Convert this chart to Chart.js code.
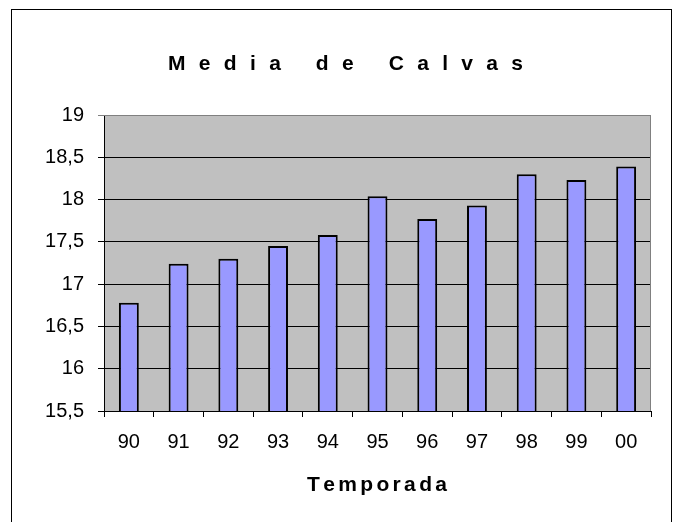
<!DOCTYPE html>
<html>
<head>
<meta charset="utf-8">
<script src="https://cdn.jsdelivr.net/npm/chart.js@4/dist/chart.umd.min.js"></script>
<style>
  html, body { margin: 0; padding: 0; background: #fff; }
  #wrap { position: relative; width: 676px; height: 522px; }
  #frame { position: absolute; left: 11px; top: 9px; width: 661px; height: 540px;
           border: 1px solid #000; box-sizing: border-box; pointer-events: none; }
</style>
</head>
<body>
<div id="wrap">
  <canvas id="chart" width="676" height="522"></canvas>
  <div id="frame"></div>
</div>
<script>
// datos
var temporadas = ['90', '91', '92', '93', '94', '95', '96', '97', '98', '99', '00'];
var mediaCalvas = [16.78, 17.24, 17.30, 17.45, 17.58, 18.04, 17.77, 17.93, 18.30, 18.23, 18.39];
var tituloGrafico = 'Media de Calvas';
var tituloEjeX = 'Temporada';

// texto espaciado letra a letra (como lo dibuja Excel)
function textoEspaciado(ctx, texto, font, ancho, huecoPalabra, cx, cy) {
    ctx.font = font;
    ctx.textAlign = 'left';
    ctx.textBaseline = 'middle';
    var chars = texto.split('');
    var anchoLetras = 0, huecos = 0, espacios = 0;
    chars.forEach(function(c, i) {
        if (c === ' ') { espacios++; return; }
        anchoLetras += ctx.measureText(c).width;
        if (i < chars.length - 1 && chars[i + 1] !== ' ') huecos++;
    });
    var hueco = (ancho - anchoLetras - espacios * huecoPalabra) / huecos;
    var x = cx - ancho / 2;
    chars.forEach(function(c, i) {
        if (c === ' ') { x += huecoPalabra; return; }
        ctx.fillText(c, x, cy);
        x += ctx.measureText(c).width;
        if (i < chars.length - 1 && chars[i + 1] !== ' ') x += hueco;
    });
}

// fondo gris del area de trazado + borde superior/derecho + titulos
var fondoPlot = {
    id: 'fondoPlot',
    beforeDraw: function(chart) {
        var a = chart.chartArea;
        var ctx = chart.ctx;
        ctx.save();
        ctx.fillStyle = '#C0C0C0';
        ctx.fillRect(a.left, a.top, a.right - a.left, a.bottom - a.top);
        ctx.restore();
    },
    afterDraw: function(chart) {
        var a = chart.chartArea;
        var ctx = chart.ctx;
        ctx.save();
        ctx.strokeStyle = '#808080';
        ctx.lineWidth = 1;
        ctx.beginPath();
        ctx.moveTo(a.left, a.top + 0.5);
        ctx.lineTo(a.right - 0.5, a.top + 0.5);
        ctx.lineTo(a.right - 0.5, a.bottom);
        ctx.stroke();

        ctx.fillStyle = '#000';
        textoEspaciado(ctx, tituloGrafico, 'bold 21px "Liberation Sans", Arial, sans-serif', 355, 35, 345.5, 64);
        textoEspaciado(ctx, tituloEjeX, 'bold 21px "Liberation Sans", Arial, sans-serif', 140, 0, 377, 485);
        ctx.restore();
    }
};

var ctx = document.getElementById('chart').getContext('2d');
var myChart = new Chart(ctx, {
    type: 'bar',
    data: {
        labels: temporadas,
        datasets: [{
            label: 'Media',
            data: mediaCalvas,
            backgroundColor: '#9999FF',
            borderColor: '#000000',
            borderWidth: 2,
            categoryPercentage: 1,
            barPercentage: 0.4
        }]
    },
    options: {
        responsive: false,
        animation: false,
        layout: { padding: { top: 115, right: 25, bottom: 0, left: 0 } },
        plugins: {
            legend: { display: false },
            tooltip: { enabled: false }
        },
        scales: {
            x: {
                offset: true,
                grid: {
                    offset: true,
                    drawOnChartArea: false,
                    color: '#000',
                    tickLength: 6
                },
                border: { color: '#000', width: 1 },
                ticks: {
                    color: '#000',
                    padding: 13,
                    maxRotation: 0,
                    font: { family: '"Liberation Sans", Arial, sans-serif', size: 20 }
                },
                afterFit: function(scale) { scale.height = 111; }
            },
            y: {
                min: 15.5,
                max: 19,
                grid: {
                    color: function(c) { return c.tick && c.tick.value === 19 ? '#808080' : '#000'; },
                    tickLength: 6
                },
                border: { color: '#000', width: 1 },
                ticks: {
                    stepSize: 0.5,
                    color: '#000',
                    padding: 14,
                    font: { family: '"Liberation Sans", Arial, sans-serif', size: 20 },
                    callback: function(v) { return String(v).replace('.', ','); }
                },
                afterFit: function(scale) { scale.width = 104; }
            }
        }
    },
    plugins: [fondoPlot]
});
</script>
</body>
</html>
